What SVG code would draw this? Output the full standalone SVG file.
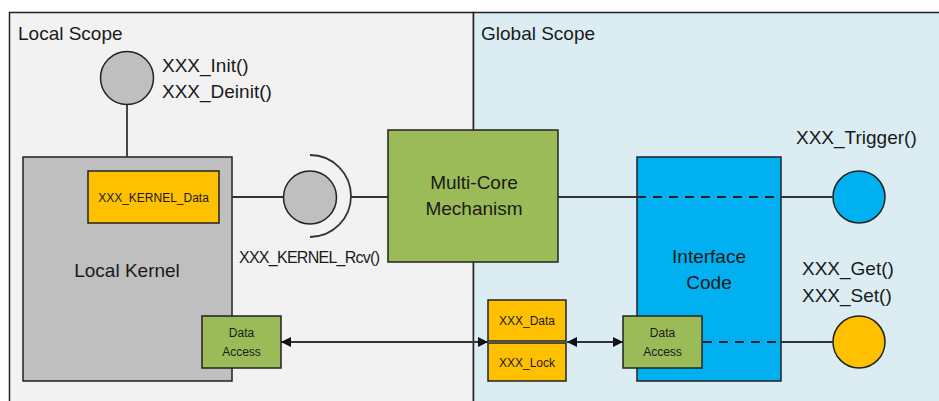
<svg xmlns="http://www.w3.org/2000/svg" width="939" height="401" viewBox="0 0 939 401">
<defs>
<style>
.t{font-family:"Liberation Sans",Arial,sans-serif;fill:#1a1a1a}
.big{font-size:19px}
.med{font-size:16px}
.sm{font-size:12px}
.box{stroke:#222;stroke-width:1.5}
.ln{stroke:#333;stroke-width:1.8;fill:none}
.dash{stroke:#222;stroke-width:1.8;stroke-dasharray:9 7;fill:none}
</style>
<marker id="ah" viewBox="0 0 10 10" refX="10" refY="5" markerWidth="17" markerHeight="10" markerUnits="userSpaceOnUse" orient="auto-start-reverse">
<path d="M0,0 L10,5 L0,10 Z" fill="#111"/>
</marker>
</defs>
<rect x="0" y="0" width="939" height="401" fill="#fff"/>
<g id="local-scope">
<rect x="9.5" y="12.5" width="464" height="400" fill="#f2f2f2" stroke="#222" stroke-width="1.5"/>
<text class="t big" x="18" y="40">Local Scope</text>
</g>
<g id="global-scope">
<rect x="473.5" y="12.5" width="480" height="400" fill="#dbedf3" stroke="#222" stroke-width="1.5"/>
<text class="t big" x="481" y="40">Global Scope</text>
</g>
<g id="init-iface">
<circle cx="127" cy="78" r="26.5" fill="#bfbfbf" class="box"/>
<text class="t big" x="162" y="72">XXX_Init()</text>
<text class="t big" x="162" y="98">XXX_Deinit()</text>
</g>
<g id="local-kernel">
<rect x="23" y="157" width="209" height="224" fill="#bfbfbf" class="box"/>
<text class="t big" x="127" y="277" text-anchor="middle">Local Kernel</text>
</g>
<g id="kernel-data">
<rect x="88" y="171" width="131" height="52" fill="#ffc000" class="box"/>
<text class="t sm" x="153.5" y="202" text-anchor="middle">XXX_KERNEL_Data</text>
</g>
<g id="kernel-rcv">
<circle cx="310" cy="197.5" r="26.5" fill="#bfbfbf" class="box"/>
<text class="t med" x="239" y="263" textLength="141">XXX_KERNEL_Rcv()</text>
</g>
<g id="multicore">
<rect x="388" y="130" width="170" height="132" fill="#9bbb59" class="box"/>
<text class="t big" x="474" y="189" text-anchor="middle">Multi-Core</text>
<text class="t big" x="474" y="215" text-anchor="middle">Mechanism</text>
</g>
<g id="interface-code">
<rect x="637" y="157" width="144" height="224" fill="#00b0f0" class="box"/>
<text class="t big" x="709" y="263" text-anchor="middle">Interface</text>
<text class="t big" x="709" y="289" text-anchor="middle">Code</text>
</g>
<g id="data-access-local">
<rect x="202" y="316" width="79" height="52" fill="#9bbb59" class="box"/>
<text class="t sm" x="241.5" y="337" text-anchor="middle">Data</text>
<text class="t sm" x="241.5" y="356" text-anchor="middle">Access</text>
</g>
<g id="data-access-global">
<rect x="623" y="316" width="79" height="52" fill="#9bbb59" class="box"/>
<text class="t sm" x="662.5" y="337" text-anchor="middle">Data</text>
<text class="t sm" x="662.5" y="356" text-anchor="middle">Access</text>
</g>
<g id="xxx-data">
<rect x="488" y="300" width="78" height="41" fill="#ffc000" class="box"/>
<text class="t sm" x="527" y="325" text-anchor="middle">XXX_Data</text>
</g>
<g id="xxx-lock">
<rect x="488" y="343" width="78" height="38" fill="#ffc000" class="box"/>
<text class="t sm" x="527" y="367" text-anchor="middle">XXX_Lock</text>
</g>
<g id="trigger">
<circle cx="859" cy="197" r="26" fill="#00b0f0" class="box"/>
<text class="t big" x="796" y="144">XXX_Trigger()</text>
</g>
<g id="getset">
<circle cx="859" cy="342" r="26" fill="#ffc000" class="box"/>
<text class="t big" x="802" y="275">XXX_Get()</text>
<text class="t big" x="802" y="302">XXX_Set()</text>
</g>
<g id="connectors">
<line class="ln" x1="127" y1="105" x2="127" y2="157"/>
<line class="ln" x1="232" y1="197" x2="283" y2="197"/>
<path class="ln" d="M310,155 A41,41 0 0 1 310,237"/>
<line class="ln" x1="350" y1="197" x2="388" y2="197"/>
<line class="ln" x1="558" y1="197" x2="637" y2="197"/>
<line class="dash" x1="637" y1="197" x2="781" y2="197"/>
<line class="ln" x1="781" y1="197" x2="833" y2="197"/>
<line class="dash" x1="703" y1="342" x2="781" y2="342"/>
<line class="ln" x1="781" y1="342" x2="833" y2="342"/>
<line class="ln" x1="281" y1="342" x2="488" y2="342" marker-start="url(#ah)" marker-end="url(#ah)"/>
<line class="ln" x1="567" y1="342" x2="623" y2="342" marker-start="url(#ah)" marker-end="url(#ah)"/>
</g>
</svg>
